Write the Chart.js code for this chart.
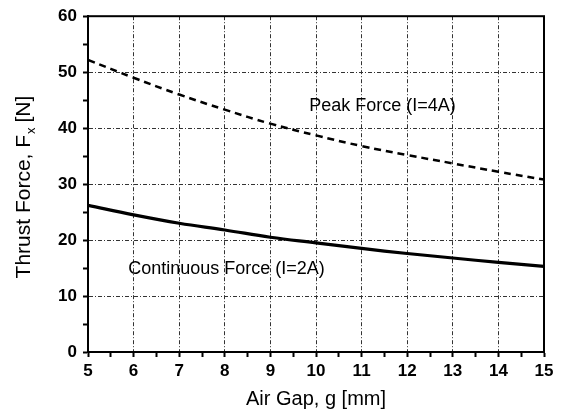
<!DOCTYPE html>
<html>
<head>
<meta charset="utf-8">
<script src="https://cdn.jsdelivr.net/npm/chart.js@4.4.0/dist/chart.umd.min.js"></script>
<style>
  html, body { margin: 0; padding: 0; background: #fff; }
  #wrap { width: 563px; height: 415px; position: relative; }
</style>
</head>
<body>
<div id="wrap"><canvas id="chart"></canvas></div>
<script>
// air gap g [mm]
var gaps = [5, 6, 7, 8, 9, 10, 11, 12, 13, 14, 15];
// thrust force Fx [N]
var peakForce = [52.2, 49.0, 46.0, 43.3, 40.8, 38.7, 36.8, 35.2, 33.7, 32.2, 30.8];
var contForce = [26.2, 24.5, 23.0, 21.8, 20.5, 19.5, 18.5, 17.6, 16.8, 16.0, 15.3];

var peakLabel = "Peak Force (I=4A)";
var contLabel = "Continuous Force (I=2A)";

var fontName = "'Liberation Sans', Arial, sans-serif";

function toPoints(xs, ys) {
    var pts = [];
    for (var i = 0; i < xs.length; i++) {
        pts.push({ x: xs[i], y: ys[i] });
    }
    return pts;
}

// frame, in-plot labels and the y title with its subscript
var decorations = {
    id: 'decorations',
    afterDraw: function (chart) {
        var ctx = chart.ctx;
        var a = chart.chartArea;
        var xs = chart.scales.x, ys = chart.scales.y;
        ctx.save();
        ctx.strokeStyle = '#000';
        ctx.lineWidth = 2;
        ctx.strokeRect(a.left, a.top, a.right - a.left, a.bottom - a.top);

        ctx.fillStyle = '#000';
        ctx.font = '18px ' + fontName;
        ctx.textBaseline = 'middle';
        ctx.textAlign = 'left';
        ctx.fillText(peakLabel, xs.getPixelForValue(9.85), ys.getPixelForValue(43.9));
        ctx.fillText(contLabel, xs.getPixelForValue(5.88), ys.getPixelForValue(14.9));

        // y title
        ctx.translate(24, (a.top + a.bottom) / 2 + 3);
        ctx.rotate(-Math.PI / 2);
        var big = '21px ' + fontName, small = '13px ' + fontName;
        var p1 = 'Thrust Force, F', p2 = ' [N]';
        ctx.font = big;
        var w1 = ctx.measureText(p1).width;
        var w2 = ctx.measureText(p2).width;
        ctx.font = small;
        var ws = ctx.measureText('x').width;
        var x0 = -(w1 + ws + w2) / 2;
        ctx.font = big;
        ctx.fillText(p1, x0, 0);
        ctx.fillText(p2, x0 + w1 + ws, 0);
        ctx.font = small;
        ctx.fillText('x', x0 + w1 + 1, 7);
        ctx.restore();
    }
};

function gridColor(step) {
    return function (c) {
        if (!c.tick) return 'rgba(0,0,0,0)';
        var v = c.tick.value;
        return (Math.abs(v / step - Math.round(v / step)) < 1e-6) ? '#333' : 'rgba(0,0,0,0)';
    };
}

new Chart(document.getElementById('chart'), {
    type: 'line',
    data: {
        datasets: [{
            label: peakLabel,
            data: toPoints(gaps, peakForce),
            borderColor: '#000',
            borderWidth: 2.5,
            borderDash: [7, 5],
            pointRadius: 0,
            tension: 0.4,
            fill: false
        }, {
            label: contLabel,
            data: toPoints(gaps, contForce),
            borderColor: '#000',
            borderWidth: 3.2,
            pointRadius: 0,
            tension: 0.4,
            fill: false
        }]
    },
    options: {
        responsive: true,
        maintainAspectRatio: false,
        animation: false,
        layout: { padding: { top: 16, right: 19, left: 0, bottom: 0 } },
        plugins: {
            legend: { display: false },
            tooltip: { enabled: false }
        },
        scales: {
            x: {
                type: 'linear',
                min: 5, max: 15,
                afterFit: function (s) { s.height = 63; },
                border: { display: true, color: '#000', width: 2, dash: [4, 2, 1, 2] },
                grid: {
                    color: gridColor(1),
                    lineWidth: 1,
                    drawTicks: true,
                    tickLength: 5,
                    tickColor: '#000',
                    tickWidth: 2,
                    tickBorderDash: []
                },
                ticks: {
                    stepSize: 0.5,
                    autoSkip: false,
                    maxRotation: 0,
                    padding: 4,
                    color: '#000',
                    font: { family: fontName, size: 17, weight: 'bold' },
                    callback: function (v) { return Number.isInteger(v) ? String(v) : ''; }
                },
                title: {
                    display: true,
                    text: 'Air Gap, g [mm]',
                    color: '#000',
                    padding: { top: 9 },
                    font: { family: fontName, size: 20 }
                }
            },
            y: {
                min: 0, max: 60,
                afterFit: function (s) { s.width = 88; },
                border: { display: true, color: '#000', width: 2, dash: [4, 2, 1, 2] },
                grid: {
                    color: gridColor(10),
                    lineWidth: 1,
                    drawTicks: true,
                    tickLength: 5,
                    tickColor: '#000',
                    tickWidth: 2,
                    tickBorderDash: []
                },
                ticks: {
                    stepSize: 5,
                    autoSkip: false,
                    padding: 6,
                    color: '#000',
                    font: { family: fontName, size: 17, weight: 'bold' },
                    callback: function (v) { return v % 10 === 0 ? String(v) : ''; }
                }
            }
        }
    },
    plugins: [decorations]
});
</script>
</body>
</html>
